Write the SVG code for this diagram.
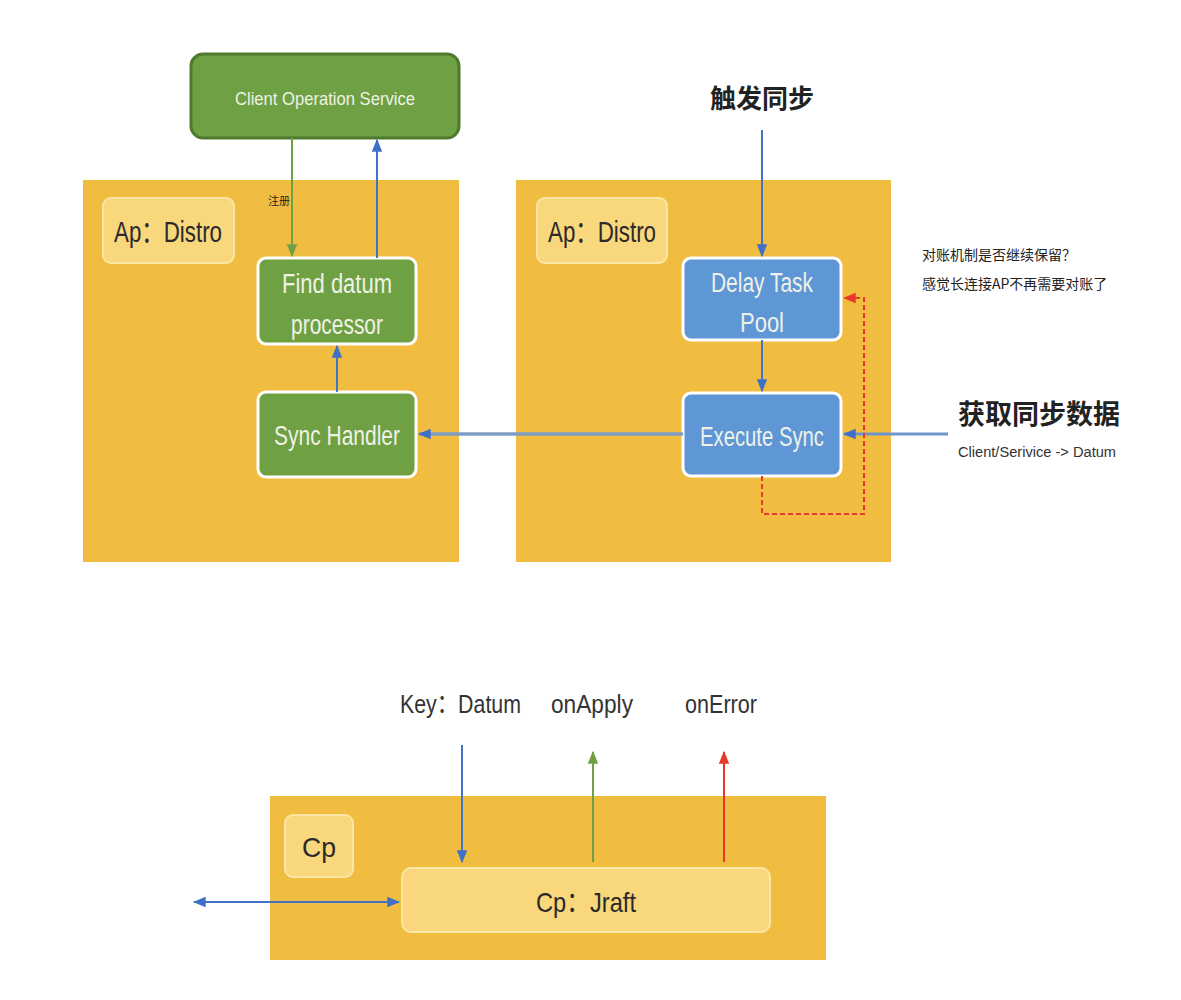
<svg xmlns="http://www.w3.org/2000/svg" width="1181" height="1000" viewBox="0 0 1181 1000">
<style>
.cont{fill:#f1bd41;}
.lbl{fill:#f9d77c;stroke:#fbe6a6;stroke-width:2;}
.gnode{fill:#6fa043;stroke:#ffffff;stroke-width:3;}
.bnode{fill:#5e96d6;stroke:#ffffff;stroke-width:3;}
.t{font-family:"Liberation Sans","Noto Sans CJK SC",sans-serif;}
.dark{fill:#2a2a2a;}
.light{fill:#eef2e6;}
.cjk{font-family:"Noto Sans CJK SC",sans-serif;fill:#222;}
.blue{stroke:#4472c4;stroke-width:2;fill:none;}
</style>
<defs>
<marker id="ab" viewBox="0 0 10 10" refX="9" refY="5" markerWidth="13" markerHeight="13" markerUnits="userSpaceOnUse" orient="auto-start-reverse"><path d="M0,1L10,5L0,9z" fill="#3f6fc7"/></marker>
<marker id="ag" viewBox="0 0 10 10" refX="9" refY="5" markerWidth="13" markerHeight="13" markerUnits="userSpaceOnUse" orient="auto"><path d="M0,1L10,5L0,9z" fill="#70a044"/></marker>
<marker id="ar" viewBox="0 0 10 10" refX="9" refY="5" markerWidth="13" markerHeight="13" markerUnits="userSpaceOnUse" orient="auto"><path d="M0,1L10,5L0,9z" fill="#e8382b"/></marker>
</defs>
<rect width="1181" height="1000" fill="#ffffff"/>

<g id="containers">
<rect class="cont" x="83" y="180" width="376" height="382"/>
<rect class="cont" x="516" y="180" width="375" height="382"/>
<rect class="cont" x="270" y="796" width="556" height="164"/>
</g>

<g id="client-op">
<rect x="191" y="54" width="268" height="84" rx="12" fill="#6fa043" stroke="#4d7a2c" stroke-width="3"/>
<text class="t light" x="325" y="105" font-size="19" text-anchor="middle" textLength="180" lengthAdjust="spacingAndGlyphs">Client Operation Service</text>
</g>

<g id="ap-label-left">
<rect class="lbl" x="103" y="198" width="131" height="65" rx="8"/>
<text class="t dark" x="168" y="242" font-size="30" text-anchor="middle" textLength="108" lengthAdjust="spacingAndGlyphs">Ap：Distro</text>
</g>
<g id="ap-label-right">
<rect class="lbl" x="537" y="198" width="130" height="65" rx="8"/>
<text class="t dark" x="602" y="242" font-size="30" text-anchor="middle" textLength="108" lengthAdjust="spacingAndGlyphs">Ap：Distro</text>
</g>

<g id="find-datum">
<rect class="gnode" x="258" y="258" width="158" height="86" rx="8"/>
<text class="t light" x="337" y="293" font-size="27" text-anchor="middle" textLength="110" lengthAdjust="spacingAndGlyphs">Find datum</text>
<text class="t light" x="337" y="334" font-size="27" text-anchor="middle" textLength="92" lengthAdjust="spacingAndGlyphs">processor</text>
</g>

<g id="sync-handler">
<rect class="gnode" x="258" y="392" width="158" height="85" rx="8"/>
<text class="t light" x="337" y="445" font-size="27" text-anchor="middle" textLength="126" lengthAdjust="spacingAndGlyphs">Sync Handler</text>
</g>

<g id="delay-task">
<rect class="bnode" x="683" y="258" width="158" height="82" rx="8"/>
<text class="t light" x="762" y="292" font-size="27" text-anchor="middle" textLength="102" lengthAdjust="spacingAndGlyphs">Delay Task</text>
<text class="t light" x="762" y="332" font-size="27" text-anchor="middle" textLength="44" lengthAdjust="spacingAndGlyphs">Pool</text>
</g>

<g id="execute-sync">
<rect class="bnode" x="683" y="393" width="158" height="83" rx="8"/>
<text class="t light" x="762" y="446" font-size="27" text-anchor="middle" textLength="124" lengthAdjust="spacingAndGlyphs">Execute Sync</text>
</g>

<g id="trigger-label">
<text class="cjk" x="762" y="108" font-size="26" font-weight="bold" text-anchor="middle">触发同步</text>
</g>

<g id="fetch-label">
<text class="cjk" x="958" y="424" font-size="27" font-weight="bold">获取同步数据</text>
<text class="t" x="958" y="457" font-size="14" fill="#333" textLength="158" lengthAdjust="spacingAndGlyphs">Client/Serivice -&gt; Datum</text>
</g>

<g id="comment">
<text class="cjk" x="922" y="260" font-size="14">对账机制是否继续保留？</text>
<text class="cjk" x="922" y="289" font-size="14">感觉长连接AP不再需要对账了</text>
</g>

<g id="cp-label">
<rect class="lbl" x="285" y="815" width="68" height="62" rx="8"/>
<text class="t dark" x="319" y="857" font-size="28" text-anchor="middle" textLength="34" lengthAdjust="spacingAndGlyphs">Cp</text>
</g>

<g id="cp-jraft">
<rect class="lbl" x="402" y="868" width="368" height="64" rx="9"/>
<text class="t dark" x="586" y="912" font-size="28" text-anchor="middle" textLength="100" lengthAdjust="spacingAndGlyphs">Cp：Jraft</text>
</g>

<g id="bottom-labels">
<text class="t" x="400" y="713" font-size="26" fill="#333" textLength="121" lengthAdjust="spacingAndGlyphs">Key：Datum</text>
<text class="t" x="551" y="713" font-size="26" fill="#333" textLength="82" lengthAdjust="spacingAndGlyphs">onApply</text>
<text class="t" x="685" y="713" font-size="26" fill="#333" textLength="72" lengthAdjust="spacingAndGlyphs">onError</text>
</g>

<g id="connectors">
<line x1="292" y1="138" x2="292" y2="256" stroke="#70a044" stroke-width="2" marker-end="url(#ag)"/>
<text class="cjk" x="268" y="205" font-size="11">注册</text>
<line class="blue" x1="377" y1="258" x2="377" y2="140" marker-end="url(#ab)"/>
<line class="blue" x1="337" y1="392" x2="337" y2="346" marker-end="url(#ab)"/>
<line class="blue" x1="762" y1="130" x2="762" y2="256" marker-end="url(#ab)"/>
<line class="blue" x1="762" y1="340" x2="762" y2="391" marker-end="url(#ab)"/>
<line x1="683" y1="434" x2="419" y2="434" stroke="#7f9ec6" stroke-width="3.5" marker-end="url(#ab)"/>
<line x1="948" y1="434" x2="844" y2="434" stroke="#6f95cc" stroke-width="3" marker-end="url(#ab)"/>
<path d="M762,476 V514 H864 V298 H844" fill="none" stroke="#e8382b" stroke-width="2" stroke-dasharray="5,3" marker-end="url(#ar)"/>
<line class="blue" x1="462" y1="745" x2="462" y2="862" marker-end="url(#ab)"/>
<line x1="593" y1="862" x2="593" y2="752" stroke="#70a044" stroke-width="2" marker-end="url(#ag)"/>
<line x1="724" y1="862" x2="724" y2="752" stroke="#e8382b" stroke-width="2" marker-end="url(#ar)"/>
<line class="blue" x1="194" y1="902" x2="399" y2="902" marker-start="url(#ab)" marker-end="url(#ab)"/>
</g>
</svg>
